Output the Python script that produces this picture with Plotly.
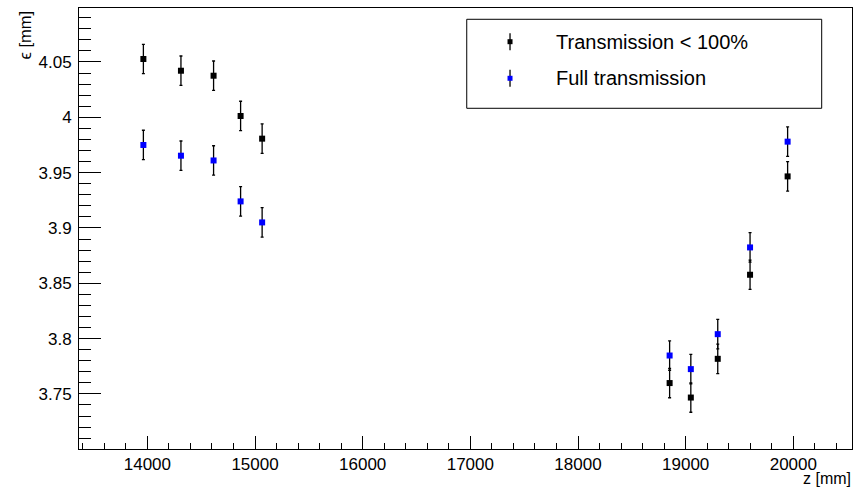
import plotly.graph_objects as go

# ---- data ----
z_mm = [13963, 14312, 14615, 14866, 15066, 18851, 19048, 19298, 19598, 19947]
eps_partial = [4.0527, 4.0421, 4.0376, 4.0012, 3.9807, 3.7598, 3.7467, 3.7817, 3.8577, 3.9466]
eps_full = [3.9750, 3.9653, 3.9610, 3.9240, 3.9050, 3.7847, 3.7724, 3.8040, 3.8824, 3.9780]
err_partial = [0.0133] * 10
err_full = [0.0133] * 10
series_names = ["Transmission < 100%", "Full transmission"]
series_colors = ["#000000", "#0000ff"]

x_range = [13365, 20545]
y_range = [3.7002, 4.0988]

FONT = "Liberation Sans, Arial, sans-serif"

fig = go.Figure()
for ys, es, name, col in [(eps_partial, err_partial, series_names[0], series_colors[0]),
                          (eps_full, err_full, series_names[1], series_colors[1])]:
    fig.add_trace(go.Scatter(
        x=z_mm, y=ys, mode="markers", name=name, showlegend=False,
        marker=dict(symbol="square", size=6, color=col, line=dict(width=0)),
        error_y=dict(type="data", array=es, visible=True, color="#000000",
                     thickness=1.3, width=1.5),
    ))

axis_common = dict(
    showgrid=False, zeroline=False, showline=True, linecolor="#000000", linewidth=1,
    mirror=True, ticks="inside", tickcolor="#000000", tickwidth=1,
    tickfont=dict(family=FONT, size=17, color="#000000"),
)
fig.update_xaxes(range=x_range, dtick=1000, tick0=0, ticklen=13, tickformat="d",
                 minor=dict(ticks="inside", dtick=200, ticklen=6.5, tickcolor="#000000", tickwidth=1),
                 **axis_common)
fig.update_yaxes(range=y_range, dtick=0.05, tick0=0, ticklen=22,
                 minor=dict(ticks="inside", dtick=0.01, ticklen=11.5, tickcolor="#000000", tickwidth=1),
                 ticklabelstandoff=3,
                 **axis_common)

# axis titles (ROOT style: at the ends of the axes)
annotations = [
    dict(text="z [mm]", xref="paper", yref="paper", x=1.0, y=-0.0668,
         xanchor="right", yanchor="middle", showarrow=False, borderpad=0,
         font=dict(family=FONT, size=16, color="#000000")),
    dict(text="ϵ [mm]", xref="paper", yref="paper", x=-0.07, y=1.0, textangle=-90,
         xanchor="center", yanchor="top", showarrow=False,
         font=dict(family=FONT, size=16.5, color="#000000")),
]

# ROOT-like legend box
shapes = [dict(type="rect", xref="paper", yref="paper", x0=0.5016, x1=0.9608,
               y0=0.7726, y1=0.9744, line=dict(color="#000000", width=1),
               fillcolor="#ffffff", layer="above")]
entry_y = [0.9236, 0.8406]
for name, col, yy in zip(series_names, series_colors, entry_y):
    shapes.append(dict(type="line", xref="paper", yref="paper", xsizemode="pixel",
                       ysizemode="pixel", xanchor=0.5576, yanchor=yy,
                       x0=0, x1=0, y0=-8.5, y1=8.5, line=dict(color="#000000", width=1.3),
                       layer="above"))
    shapes.append(dict(type="rect", xref="paper", yref="paper", xsizemode="pixel",
                       ysizemode="pixel", xanchor=0.5576, yanchor=yy,
                       x0=-2.5, x1=2.5, y0=-2.5, y1=2.5, line=dict(width=0),
                       fillcolor=col, layer="above"))
    annotations.append(dict(text=name, xref="paper", yref="paper", x=0.6150, y=yy,
                            xanchor="left", yanchor="middle", showarrow=False,
                            font=dict(family=FONT, size=20, color="#000000")))

fig.update_layout(
    width=854, height=488, autosize=False,
    margin=dict(l=79, r=2, t=8, b=39, pad=0),
    paper_bgcolor="#ffffff", plot_bgcolor="#ffffff",
    showlegend=False, shapes=shapes, annotations=annotations,
    font=dict(family=FONT, color="#000000"),
)

fig.write_html("out.html")
